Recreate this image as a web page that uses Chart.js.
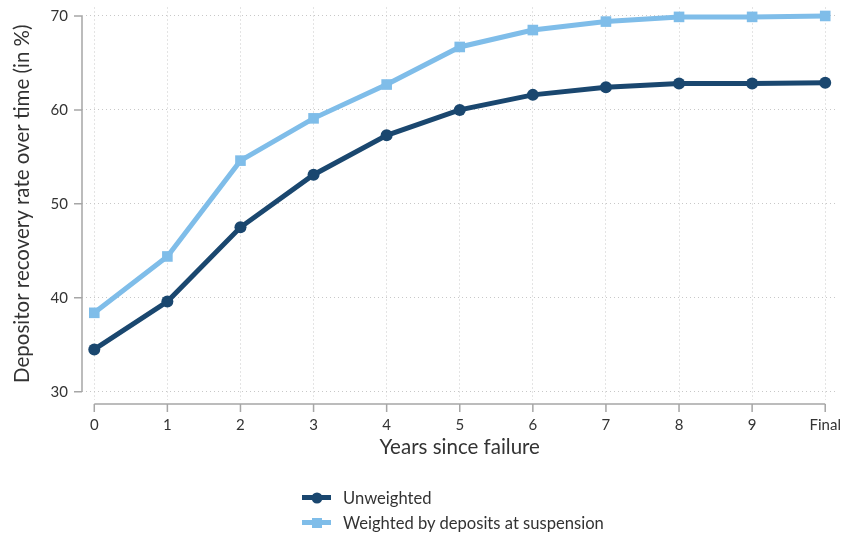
<!DOCTYPE html>
<html>
<head>
<meta charset="utf-8">
<script src="https://cdn.jsdelivr.net/npm/chart.js@4"></script>
<style>
  html, body { margin: 0; padding: 0; background: #fff; }
  #wrap { position: relative; width: 845px; height: 535px; }
  #legend { position: absolute; left: 302px; top: 485px; font-family: Lato, sans-serif; font-size: 16.6px; color: #333; }
  .row { display: flex; align-items: center; height: 25px; }
  .sw { position: relative; width: 29px; height: 5px; margin-right: 12px; }
  .sw i { position: absolute; left: 50%; top: 50%; transform: translate(-50%, -50%); display: block; }
</style>
</head>
<body>
<div id="wrap">
  <canvas id="Chart" width="845" height="535"></canvas>
  <div id="legend"></div>
</div>
<script>
const labels = ["0", "1", "2", "3", "4", "5", "6", "7", "8", "9", "Final"];
const unweighted = [34.5, 39.6, 47.5, 53.1, 57.3, 60.0, 61.6, 62.4, 62.8, 62.8, 62.9];
const weighted = [38.4, 44.4, 54.6, 59.1, 62.7, 66.7, 68.5, 69.4, 69.9, 69.9, 70.0];
const yTicks = [30, 40, 50, 60, 70];

const dark = "rgb(26, 71, 111)";
const light = "rgb(127, 189, 233)";
const axisColor = "#a6a6a6";
const textColor = "#333";

// stata-like axes: line only between first and last tick, ticks outside
const axisLines = {
  id: "axisLines",
  afterDraw(chart) {
    const c = chart.ctx;
    const x = chart.scales.x;
    const y = chart.scales.y;
    const left = chart.chartArea.left;
    const axisY = chart.chartArea.bottom + 4;
    c.save();
    c.strokeStyle = axisColor;
    c.lineWidth = 1.5;
    c.beginPath();
    c.moveTo(left, y.getPixelForValue(yTicks[0]));
    c.lineTo(left, y.getPixelForValue(yTicks[yTicks.length - 1]));
    yTicks.forEach((t) => {
      const py = y.getPixelForValue(t);
      c.moveTo(left - 8, py);
      c.lineTo(left, py);
    });
    c.moveTo(x.getPixelForValue(0), axisY);
    c.lineTo(x.getPixelForValue(labels.length - 1), axisY);
    labels.forEach((l, i) => {
      const px = x.getPixelForValue(i);
      c.moveTo(px, axisY);
      c.lineTo(px, axisY + 8);
    });
    c.stroke();
    c.restore();
  },
};

const gridOpts = {
  color: "#c8c8c8",
  lineWidth: 1,
  drawTicks: false,
};

function noPad(scale) {
  scale.paddingTop = 0;
  scale.paddingBottom = 0;
  scale.paddingLeft = 0;
  scale.paddingRight = 0;
}

const chart = new Chart(document.getElementById("Chart"), {
  type: "line",
  data: {
    datasets: [
      {
        label: "Unweighted",
        data: unweighted.map((v, i) => ({ x: i, y: v })),
        borderColor: dark,
        backgroundColor: dark,
        borderWidth: 5,
        pointStyle: "circle",
        pointRadius: 6,
        pointBorderWidth: 0,
        tension: 0,
        clip: false,
      },
      {
        label: "Weighted by deposits at suspension",
        data: weighted.map((v, i) => ({ x: i, y: v })),
        borderColor: light,
        backgroundColor: light,
        borderWidth: 5,
        pointStyle: "rect",
        pointRadius: 7.5,
        pointBorderWidth: 0,
        tension: 0,
        clip: false,
      },
    ],
  },
  options: {
    responsive: false,
    animation: false,
    layout: { padding: { top: 3, right: 7, bottom: 75, left: 0 } },
    plugins: { legend: { display: false }, tooltip: { enabled: false } },
    scales: {
      x: {
        type: "linear",
        min: -0.168,
        max: labels.length - 1 + 0.168,
        afterBuildTicks: (scale) => {
          scale.ticks = labels.map((l, i) => ({ value: i }));
        },
        afterFit: (scale) => {
          scale.height = 60;
          noPad(scale);
        },
        border: { display: false, dash: [1, 3] },
        grid: gridOpts,
        ticks: {
          padding: 16,
          color: textColor,
          font: { family: "Lato", size: 15 },
          callback: (v) => labels[v],
          maxRotation: 0,
          autoSkip: false,
        },
        title: {
          display: true,
          text: "Years since failure",
          color: textColor,
          font: { family: "Lato", size: 20.5 },
          padding: { top: 0, bottom: 0 },
        },
      },
      y: {
        min: 29.12,
        max: 70.9,
        afterBuildTicks: (scale) => {
          scale.ticks = yTicks.map((v) => ({ value: v }));
        },
        afterFit: (scale) => {
          scale.width = 82;
          noPad(scale);
        },
        border: { display: false, dash: [1, 3] },
        grid: gridOpts,
        ticks: {
          padding: 14,
          color: textColor,
          font: { family: "Lato", size: 15 },
        },
        title: {
          display: true,
          text: "Depositor recovery rate over time (in %)",
          color: textColor,
          font: { family: "Lato", size: 20.5 },
          padding: { top: 10, bottom: 0 },
        },
      },
    },
  },
  plugins: [axisLines],
});

// legend
const legend = document.getElementById("legend");
chart.data.datasets.forEach((ds) => {
  const row = document.createElement("div");
  row.className = "row";
  const sw = document.createElement("div");
  sw.className = "sw";
  sw.style.background = ds.borderColor;
  const mark = document.createElement("i");
  mark.style.background = ds.borderColor;
  if (ds.pointStyle === "circle") {
    mark.style.width = "11px";
    mark.style.height = "11px";
    mark.style.borderRadius = "50%";
  } else {
    mark.style.width = "10px";
    mark.style.height = "10px";
  }
  sw.appendChild(mark);
  const txt = document.createElement("span");
  txt.textContent = ds.label;
  row.appendChild(sw);
  row.appendChild(txt);
  legend.appendChild(row);
});
</script>
</body>
</html>
